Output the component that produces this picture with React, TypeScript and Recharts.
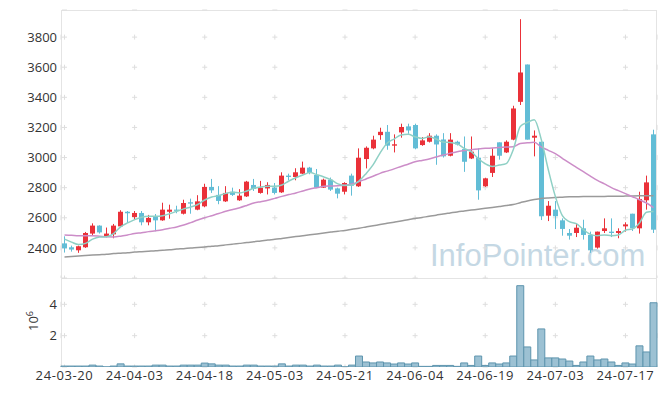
import React from 'react';
import { ComposedChart, Bar, Line, XAxis, YAxis, CartesianGrid } from 'recharts';

const dates = [
  '24-03-20', '24-03-21', '24-03-22', '24-03-25', '24-03-26', '24-03-27', '24-03-28', '24-03-29',
  '24-04-01', '24-04-02', '24-04-03', '24-04-04', '24-04-05', '24-04-08', '24-04-09', '24-04-11',
  '24-04-12', '24-04-15', '24-04-16', '24-04-17', '24-04-18', '24-04-19', '24-04-22', '24-04-23',
  '24-04-24', '24-04-25', '24-04-26', '24-04-29', '24-04-30', '24-05-02', '24-05-03', '24-05-07',
  '24-05-08', '24-05-09', '24-05-10', '24-05-13', '24-05-14', '24-05-16', '24-05-17', '24-05-20',
  '24-05-21', '24-05-22', '24-05-23', '24-05-24', '24-05-27', '24-05-28', '24-05-29', '24-05-30',
  '24-05-31', '24-06-03', '24-06-04', '24-06-05', '24-06-07', '24-06-10', '24-06-11', '24-06-12',
  '24-06-13', '24-06-14', '24-06-17', '24-06-18', '24-06-19', '24-06-20', '24-06-21', '24-06-24',
  '24-06-25', '24-06-26', '24-06-27', '24-06-28', '24-07-01', '24-07-02', '24-07-03', '24-07-04',
  '24-07-05', '24-07-08', '24-07-09', '24-07-10', '24-07-11', '24-07-12', '24-07-15', '24-07-16',
  '24-07-17', '24-07-18', '24-07-19', '24-07-22', '24-07-23',
];

const opens = [
  2430, 2404, 2384, 2404, 2495, 2548, 2477, 2490, 2543, 2640,
  2605, 2632, 2570, 2606, 2583, 2640, 2654, 2627, 2703, 2654,
  2676, 2805, 2752, 2709, 2773, 2716, 2742, 2818, 2765, 2795,
  2800, 2769, 2880, 2871, 2893, 2933, 2884, 2800, 2853, 2795,
  2773, 2880, 2809, 2990, 3061, 3149, 3171, 3079, 3167, 3207,
  3216, 3083, 3105, 3145, 3120, 3012, 3105, 3056, 2994, 2999,
  2809, 2898, 3101, 3034, 3119, 3370, 3618, 3132, 3105, 2614,
  2654, 2583, 2499, 2499, 2530, 2486, 2402, 2512, 2508, 2499,
  2543, 2627, 2530, 2716, 3154,
];

const highs = [
  2477, 2415, 2415, 2506, 2563, 2550, 2535, 2559, 2650, 2645,
  2645, 2645, 2619, 2625, 2700, 2687, 2680, 2720, 2727, 2750,
  2826, 2858, 2810, 2810, 2800, 2790, 2845, 2858, 2845, 2836,
  2831, 2902, 2893, 2929, 2973, 2938, 2924, 2860, 2867, 2800,
  2836, 2893, 3061, 3074, 3145, 3198, 3216, 3154, 3225, 3225,
  3225, 3136, 3162, 3154, 3162, 3162, 3112, 3140, 3140, 3061,
  2866, 3061, 3101, 3114, 3344, 3919, 3618, 3180, 3105, 2711,
  2711, 2596, 2525, 2561, 2587, 2508, 2508, 2596, 2596, 2530,
  2570, 2627, 2773, 2880, 3185,
];

const lows = [
  2369, 2375, 2367, 2400, 2479, 2495, 2470, 2464, 2540, 2566,
  2590, 2550, 2550, 2510, 2580, 2594, 2630, 2622, 2627, 2650,
  2670, 2765, 2690, 2705, 2745, 2712, 2738, 2778, 2760, 2755,
  2755, 2765, 2849, 2849, 2890, 2889, 2800, 2798, 2778, 2729,
  2755, 2747, 2805, 2928, 3055, 3118, 3052, 3034, 3132, 3158,
  3055, 3078, 3100, 2952, 3000, 3008, 3080, 2905, 2990, 2720,
  2805, 2871, 2986, 3030, 3115, 3349, 3119, 3008, 2585, 2578,
  2525, 2481, 2455, 2472, 2455, 2367, 2395, 2499, 2472, 2464,
  2508, 2512, 2495, 2654, 2499,
];

const closes = [
  2397, 2389, 2411, 2499, 2548, 2503, 2495, 2548, 2640, 2630,
  2632, 2570, 2599, 2583, 2654, 2654, 2646, 2698, 2694, 2709,
  2805, 2782, 2712, 2765, 2752, 2747, 2840, 2791, 2800, 2818,
  2765, 2880, 2871, 2902, 2933, 2898, 2800, 2853, 2787, 2760,
  2831, 2813, 2999, 3065, 3119, 3171, 3079, 3088, 3203, 3180,
  3061, 3114, 3145, 3087, 3008, 3119, 3087, 2972, 3039, 2782,
  2862, 3012, 3012, 3105, 3326, 3565, 3119, 3145, 2610, 2680,
  2610, 2526, 2481, 2534, 2486, 2384, 2508, 2530, 2499, 2512,
  2556, 2530, 2725, 2835, 2521,
];

const ma5 = [
  2458, 2438, 2422, 2430, 2458, 2472, 2474, 2495, 2540, 2566,
  2588, 2604, 2610, 2610, 2614, 2627, 2643, 2659, 2672, 2688,
  2718, 2738, 2747, 2762, 2770, 2765, 2778, 2796, 2805, 2809,
  2809, 2818, 2844, 2866, 2884, 2900, 2886, 2871, 2853, 2825,
  2815, 2818, 2844, 2893, 2951, 3030, 3095, 3123, 3150, 3154,
  3138, 3127, 3138, 3123, 3103, 3100, 3092, 3061, 3039, 2994,
  2959, 2941, 2950, 2960, 3052, 3207, 3233, 3251, 3119, 2919,
  2742, 2614, 2574, 2561, 2521, 2490, 2481, 2486, 2481, 2486,
  2517, 2526, 2566, 2636, 2641,
];

const ma20 = [
  2486, 2484, 2481, 2481, 2481, 2478, 2474, 2473, 2478, 2486,
  2495, 2501, 2508, 2514, 2521, 2530, 2539, 2552, 2568, 2585,
  2600, 2614, 2628, 2643, 2655, 2667, 2682, 2698, 2707, 2716,
  2729, 2742, 2754, 2765, 2778, 2791, 2800, 2809, 2811, 2813,
  2816, 2825, 2840, 2858, 2876, 2895, 2910, 2925, 2941, 2956,
  2972, 2981, 2990, 3004, 3017, 3028, 3039, 3046, 3052, 3057,
  3061, 3063, 3066, 3070, 3072, 3094, 3098, 3101, 3070, 3048,
  3026, 2995, 2964, 2935, 2906, 2877, 2849, 2825, 2800, 2780,
  2760, 2740, 2720, 2698, 2667,
];

const maLong = [
  2340, 2343, 2346, 2349, 2352, 2355, 2358, 2362, 2365, 2368,
  2372, 2375, 2378, 2381, 2385, 2388, 2392, 2395, 2399, 2402,
  2406, 2411, 2415, 2420, 2425, 2430, 2435, 2441, 2446, 2452,
  2457, 2463, 2469, 2475, 2481, 2487, 2493, 2499, 2505, 2511,
  2516, 2524, 2531, 2539, 2547, 2555, 2563, 2571, 2579, 2587,
  2595, 2602, 2610, 2617, 2625, 2632, 2639, 2645, 2651, 2657,
  2663, 2669, 2675, 2681, 2688, 2700, 2712, 2721, 2728, 2732,
  2735, 2737, 2739, 2740, 2741, 2741, 2742, 2742, 2743, 2743,
  2744, 2745, 2746, 2747, 2747,
];

// volume in millions of shares
const volumes = [
  0.06, 0.06, 0.06, 0.06, 0.12, 0.06, 0.005, 0.06, 0.2, 0.06,
  0.06, 0.06, 0.06, 0.12, 0.12, 0.06, 0.06, 0.12, 0.12, 0.12,
  0.25, 0.2, 0.12, 0.12, 0.06, 0.06, 0.12, 0.12, 0.06, 0.06,
  0.06, 0.2, 0.06, 0.12, 0.12, 0.06, 0.12, 0.06, 0.06, 0.12,
  0.005, 0.12, 0.7, 0.32, 0.26, 0.32, 0.26, 0.19, 0.26, 0.19,
  0.26, 0.04, 0.04, 0.1, 0.1, 0.1, 0.04, 0.26, 0.1, 0.7,
  0.1, 0.26, 0.19, 0.26, 0.7, 5.19, 1.28, 0.45, 2.43, 0.58,
  0.58, 0.51, 0.38, 0.1, 0.32, 0.7, 0.45, 0.51, 0.32, 0.1,
  0.26, 0.19, 1.35, 0.96, 4.1,
];

const priceTicks = [2400, 2600, 2800, 3000, 3200, 3400, 3600, 3800];
const volumeTicks = [2, 4];
const xTickLabels = ['24-03-20', '24-04-03', '24-04-18', '24-05-03', '24-05-21', '24-06-04', '24-06-19', '24-07-03', '24-07-17'];

const data = dates.map((d, i) => ({
  date: d,
  open: opens[i],
  high: highs[i],
  low: lows[i],
  close: closes[i],
  ma5: ma5[i],
  ma20: ma20[i],
  maLong: maLong[i],
  volume: volumes[i],
}));

// layout / style constants
const CHART_W = 665;
const PLOT_LEFT = 61;
const PLOT_W = 596;
const PRICE_TOP = 10;
const PRICE_H = 268;
const VOL_H = 89;
const PRICE_MIN = 2200;
const PRICE_MAX = 3980;
const VOL_MAX = 5.68;
const RED = '#ea3139';
const BLUE = '#62bdd6';
const GRID = '#dedede';
const BORDER = '#e4e4e4';
const TEXT = '#333333';
const FONT = "'Open Sans', 'Noto Sans', sans-serif";

const band = PLOT_W / dates.length;
const xPeriod = band * 10;
const xDash = `5 ${xPeriod - 5}`;
const xOffset = -(band / 2 - 2.5);

const mod = (a: number, m: number) => ((a % m) + m) % m;
const pricePeriod = (PRICE_H * 200) / (PRICE_MAX - PRICE_MIN);
const priceCenter = (PRICE_H * (PRICE_MAX - 3800)) / (PRICE_MAX - PRICE_MIN);
const priceVOffset = mod(pricePeriod - (priceCenter - 2.5), pricePeriod);
const volPeriod = (VOL_H * 2) / VOL_MAX;
const volCenter = (VOL_H * (VOL_MAX - 4)) / VOL_MAX;
const volVOffset = mod(volPeriod - (volCenter - 2.5), volPeriod);

const hLine = (p: any) => (
  <line key={p.key} x1={p.x1} y1={p.y1} x2={p.x2} y2={p.y2} stroke={GRID} strokeWidth={1}
    strokeDasharray={xDash} strokeDashoffset={xOffset} />
);
const makeVLine = (period: number, offset: number) => (p: any) => (
  <line key={p.key} x1={p.x1} y1={p.y1} x2={p.x2} y2={p.y2} stroke={GRID} strokeWidth={1}
    strokeDasharray={`5 ${period - 5}`} strokeDashoffset={offset} />
);

const Candle = (props: any) => {
  const { x, y, width, height, payload } = props;
  if (!payload) return null;
  const { open, high, low, close } = payload;
  const top = Math.min(y, y + height);
  const h = Math.abs(height);
  const ppu = h / (high - low || 1);
  const cx = Math.round(x + width / 2 - 0.5) + 0.5;
  const bodyTop = top + (high - Math.max(open, close)) * ppu;
  const bodyH = Math.max(1, Math.abs(open - close) * ppu);
  const color = close >= open ? RED : BLUE;
  const bw = 5;
  return (
    <g>
      <line x1={cx} x2={cx} y1={top} y2={top + h} stroke={color} strokeWidth={1} />
      <rect x={cx - bw / 2} y={bodyTop} width={bw} height={bodyH} fill={color} />
    </g>
  );
};

const tickStyle = { fill: TEXT, fontSize: 13, fontFamily: FONT };
const xTickStyle = { fill: TEXT, fontSize: 13, fontFamily: FONT, letterSpacing: 0.6 };

export default function App() {
  return (
    <div style={{ position: 'absolute', left: 0, top: 0, width: CHART_W, height: 396, background: '#fff', fontFamily: FONT }}>
      <svg width={CHART_W} height={396} style={{ position: 'absolute', left: 0, top: 0 }}>
        <text x={430} y={266} fontFamily="'Liberation Sans', Arial, sans-serif" fontSize={31} fill="#c5d8e4">InfoPointer.com</text>
        <text transform="translate(37.5, 321) rotate(-90)" textAnchor="middle" fontSize={13} fill={TEXT} fontFamily={FONT}>
          10<tspan dy={-5} fontSize={9}>6</tspan>
        </text>
      </svg>
      <div style={{ position: 'absolute', left: PLOT_LEFT, top: PRICE_TOP, width: PLOT_W, height: 357, boxSizing: 'border-box', borderLeft: `1px solid ${BORDER}`, borderTop: `1px solid ${BORDER}`, borderRight: `1px solid ${BORDER}` }} />
      <div style={{ position: 'absolute', left: PLOT_LEFT, top: PRICE_TOP + PRICE_H, width: PLOT_W, height: 1, background: BORDER }} />

      <div style={{ position: 'absolute', left: 0, top: 0 }}>
        <ComposedChart width={CHART_W} height={PRICE_TOP + PRICE_H + 2} data={data}
          margin={{ top: PRICE_TOP, right: CHART_W - PLOT_LEFT - PLOT_W, left: 0, bottom: 2 }} barCategoryGap={1}>
          <CartesianGrid horizontal={hLine} vertical={makeVLine(pricePeriod, priceVOffset)} />
          <XAxis dataKey="date" hide ticks={xTickLabels} interval={0} />
          <YAxis domain={[PRICE_MIN, PRICE_MAX]} ticks={priceTicks} allowDataOverflow width={PLOT_LEFT}
            tickLine={false} axisLine={false} tickSize={0} tickMargin={4} tick={tickStyle} />
          <Line type="monotone" dataKey="maLong" stroke="#9a9a9a" strokeWidth={1.5} dot={false} isAnimationActive={false} />
          <Line type="monotone" dataKey="ma20" stroke="#cc8dc8" strokeWidth={1.5} dot={false} isAnimationActive={false} />
          <Line type="monotone" dataKey="ma5" stroke="#8fd0c5" strokeWidth={1.5} dot={false} isAnimationActive={false} />
          <Bar dataKey={(d: any) => [d.low, d.high]} shape={<Candle />} isAnimationActive={false} />
        </ComposedChart>
      </div>

      <div style={{ position: 'absolute', left: 0, top: PRICE_TOP + PRICE_H }}>
        <ComposedChart width={CHART_W} height={396 - PRICE_TOP - PRICE_H} data={data}
          margin={{ top: 0, right: CHART_W - PLOT_LEFT - PLOT_W, left: 0, bottom: 0 }} barCategoryGap={0}>
          <CartesianGrid horizontal={hLine} vertical={makeVLine(volPeriod, volVOffset)} />
          <XAxis dataKey="date" ticks={xTickLabels} interval={0} height={396 - PRICE_TOP - PRICE_H - VOL_H}
            tickLine={false} axisLine={false} tickSize={0} tickMargin={4} tick={xTickStyle} />
          <YAxis domain={[0, VOL_MAX]} ticks={volumeTicks} allowDataOverflow width={PLOT_LEFT}
            tickLine={false} axisLine={false} tickSize={0} tickMargin={4} tick={tickStyle} />
          <Bar dataKey="volume" fill="#9cc1d3" stroke="#5e95ae" strokeWidth={1} isAnimationActive={false} />
        </ComposedChart>
      </div>
    </div>
  );
}
